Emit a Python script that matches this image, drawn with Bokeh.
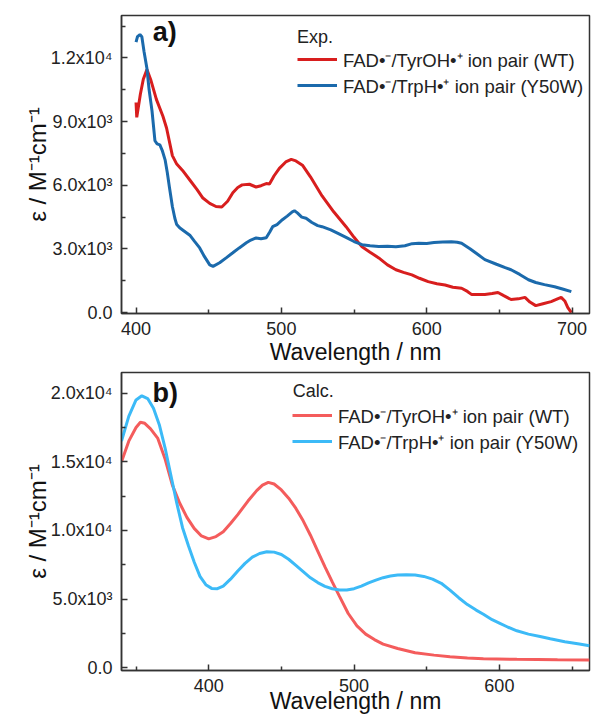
from bokeh.plotting import figure
from bokeh.layouts import column
from bokeh.models import FixedTicker, Legend, LegendItem, Label, Range1d
from bokeh.embed import file_html
from bokeh.resources import INLINE

# ---------------- data: (a) experimental ----------------
exp_wl_wt = [400, 400.5, 403, 405, 407.5, 410, 414, 418.5, 421, 425, 428, 432, 437, 442, 446,
             450.7, 455, 459, 463, 466.6, 470, 473, 478, 482.6, 486, 489.6, 491.8, 495, 498.6,
             503, 506.8, 510, 514.5, 520, 528, 536, 544.5, 550, 555.5, 561, 567, 573, 578.8,
             584, 589.8, 595, 601, 607, 612.6, 618, 624, 628, 631, 636, 640, 645, 649, 653,
             658, 663, 667.6, 671, 675, 680, 685.6, 690, 692.5, 695, 697, 699.5]
exp_eps_wt = [9900, 9200, 10300, 11000, 11450, 11000, 10050, 9250, 8700, 7400, 7000, 6700, 6250,
              5800, 5400, 5150, 5000, 4980, 5250, 5650, 5900, 6020, 6050, 5920, 5980, 6080, 6060,
              6450, 6800, 7100, 7220, 7150, 6950, 6400, 5500, 4750, 4050, 3550, 3100, 2850, 2580,
              2250, 2020, 1900, 1780, 1620, 1460, 1360, 1300, 1200, 1150, 1000, 850, 850, 860,
              900, 950, 800, 620, 650, 720, 500, 330, 420, 520, 650, 720, 550, 250, 0]

exp_wl_y50w = [400, 401, 402.7, 404, 405.5, 407.5, 409, 411, 413, 414.5, 416.4, 418, 420, 421.5,
               423, 425, 426.7, 428, 430, 433, 437, 440, 443.8, 447, 450.7, 453, 457.5, 462,
               466.6, 471, 475.9, 479, 482.6, 486, 489.6, 492, 494, 497, 500.7, 504, 507.5, 509,
               511, 514, 517, 521, 525, 528, 534, 540, 544.5, 550, 555.5, 561, 567, 573, 578.8,
               585, 590, 594.5, 600, 605, 611, 617, 621, 624, 630, 635, 640, 648, 654, 658, 664,
               670, 675, 681, 688, 694, 699.5]
exp_eps_y50w = [12750, 13000, 13100, 13000, 12300, 11500, 10500, 9500, 8100, 7950, 7900, 7650,
                7200, 6600, 5900, 5000, 4450, 4150, 4000, 3850, 3650, 3380, 3050, 2650, 2250,
                2180, 2350, 2580, 2820, 3050, 3290, 3420, 3520, 3480, 3530, 3800, 4050, 4150,
                4380, 4550, 4750, 4800, 4700, 4500, 4450, 4250, 4100, 4050, 3900, 3700, 3550,
                3350, 3200, 3150, 3120, 3130, 3100, 3150, 3250, 3270, 3260, 3300, 3330, 3340,
                3320, 3270, 3000, 2750, 2500, 2280, 2120, 2020, 1800, 1550, 1420, 1320, 1220,
                1100, 990]

# ---------------- data: (b) calculated ----------------
calc_wl_wt = [340, 345, 350, 353, 356, 360, 365, 370, 375, 380, 385, 390, 395, 400, 405, 410,
              415, 420, 427, 433, 437, 441, 445, 450, 455, 460, 465, 470, 475, 480, 485, 490,
              496, 502, 508, 514, 520, 530, 542, 555, 566, 578, 589, 612, 640, 662]
calc_eps_wt = [15000, 16500, 17500, 17880, 17800, 17400, 16700, 15200, 13300, 12000, 10950,
               10150, 9600, 9380, 9550, 9900, 10500, 11150, 12140, 12900, 13300, 13500, 13380,
               12950, 12350, 11600, 10700, 9650, 8500, 7350, 6250, 5200, 3950, 3050, 2450, 2050,
               1720, 1400, 1090, 920, 800, 710, 650, 620, 590, 570]

calc_wl_y50w = [340, 345, 350, 354, 358, 362, 366, 370, 374, 378, 382, 386, 390, 394, 398, 402,
                406, 410, 415, 420, 425, 430, 435, 440, 445, 450, 455, 460, 465, 470, 475, 480,
                485, 490, 495, 500, 505, 510, 515, 520, 525, 530, 536, 542, 548, 554, 560, 566,
                572, 578, 584, 589, 595, 600, 606, 612, 620, 628, 635, 645, 655, 662]
calc_eps_y50w = [16500, 18300, 19500, 19800, 19600, 18900, 17700, 16000, 14000, 12000, 10200,
                 8900, 7700, 6650, 6050, 5780, 5760, 5950, 6450, 7050, 7600, 8050, 8320, 8450,
                 8420, 8250, 7900, 7450, 7000, 6550, 6200, 5930, 5750, 5660, 5660, 5760, 5950,
                 6180, 6380, 6560, 6680, 6750, 6780, 6760, 6650, 6450, 6150, 5650, 5100, 4600,
                 4200, 3900, 3500, 3250, 2950, 2690, 2450, 2270, 2110, 1900, 1730, 1600]

# ---------------- ticks & texts ----------------
xa_ticks = [400, 500, 600, 700]
xa_minor = [450, 550, 650]
ya_ticks = [0, 3000, 6000, 9000, 12000]
ya_minor = [1500, 4500, 7500, 10500, 13500]
ya_labels = ["0.0", "3.0x10\u00b3", "6.0x10\u00b3", "9.0x10\u00b3", "1.2x10\u2074"]

xb_ticks = [400, 500, 600]
xb_minor = [350, 450, 550, 650]
yb_ticks = [0, 5000, 10000, 15000, 20000]
yb_minor = [2500, 7500, 12500, 17500]
yb_labels = ["0.0", "5.0x10\u00b3", "1.0x10\u2074", "1.5x10\u2074", "2.0x10\u2074"]

label_wt = "FAD\u2022\u207b/TyrOH\u2022\u207a ion pair (WT)"
label_y50w = "FAD\u2022\u207b/TrpH\u2022\u207a ion pair (Y50W)"
x_title = "Wavelength / nm"
y_title = "\u03b5 / M\u207b\u00b9cm\u207b\u00b9"

FONT = "Liberation Sans"
AX = "#333333"


def style(p, xt, xm, yt, ym, ylabels):
    p.xaxis.ticker = FixedTicker(ticks=xt, minor_ticks=xm)
    p.yaxis.ticker = FixedTicker(ticks=yt, minor_ticks=ym)
    p.yaxis.major_label_overrides = {t: l for t, l in zip(yt, ylabels)}
    p.xgrid.visible = False
    p.ygrid.visible = False
    for ax in (p.xaxis[0], p.yaxis[0]):
        ax.axis_line_color = AX
        ax.axis_line_width = 1.5
        ax.major_tick_in = 6
        ax.major_tick_out = 0
        ax.minor_tick_in = 4
        ax.minor_tick_out = 0
        ax.major_tick_line_color = AX
        ax.major_tick_line_width = 1.5
        ax.minor_tick_line_color = AX
        ax.minor_tick_line_width = 1.5
        ax.major_label_text_font = FONT
        ax.major_label_text_font_size = "18px"
        ax.major_label_text_color = "#222222"
        ax.axis_label_text_font = FONT
        ax.axis_label_text_font_size = "23px"
        ax.axis_label_text_font_style = "normal"
        ax.axis_label_text_color = "#111111"
    p.xaxis.major_label_standoff = 8
    p.yaxis.major_label_standoff = 9
    p.yaxis.axis_label = y_title
    p.yaxis.axis_label_text_font_size = "24px"
    p.yaxis.axis_label_standoff = -3
    p.outline_line_color = AX
    p.outline_line_width = 1.5
    p.outline_line_alpha = 1.0


def add_legend(p, r1, r2, loc):
    leg = Legend(items=[LegendItem(label=label_wt, renderers=[r1]),
                        LegendItem(label=label_y50w, renderers=[r2])],
                 location=loc)
    leg.label_text_font = FONT
    leg.label_text_font_size = "18.5px"
    leg.label_text_color = "#222222"
    leg.border_line_color = None
    leg.background_fill_alpha = 0
    leg.margin = 0
    leg.padding = 5
    leg.spacing = 0
    leg.label_height = 26
    leg.glyph_height = 26
    leg.glyph_width = 40
    leg.label_standoff = 6
    p.add_layout(leg)


# ---------------- panel a ----------------
pa = figure(width=594, height=369, output_backend="svg", toolbar_location=None,
            x_range=Range1d(390, 712), y_range=Range1d(-40, 14000),
            min_border_left=121, min_border_right=4, min_border_top=15, min_border_bottom=56)
ra1 = pa.line(exp_wl_wt, exp_eps_wt, line_color="#d81e1e", line_width=3)
ra2 = pa.line(exp_wl_y50w, exp_eps_y50w, line_color="#1b6aac", line_width=3)
style(pa, xa_ticks, xa_minor, ya_ticks, ya_minor, ya_labels)
pa.xaxis.axis_label = x_title
pa.xaxis.axis_label_standoff = 1
add_legend(pa, ra1, ra2, (176, 215))
pa.add_layout(Label(x=510.8, y=12990, text="Exp.", text_font=FONT, text_font_size="18px",
                    text_color="#222222", text_baseline="middle"))
pa.add_layout(Label(x=411.5, y=13920, text="a)", text_font=FONT, text_font_size="27px",
                    text_font_style="bold", text_color="#111111", text_baseline="top"))

# ---------------- panel b ----------------
pb = figure(width=594, height=349, output_backend="svg", toolbar_location=None,
            x_range=Range1d(340, 662), y_range=Range1d(-200, 21500),
            min_border_left=121, min_border_right=5, min_border_top=3, min_border_bottom=48)
rb1 = pb.line(calc_wl_wt, calc_eps_wt, line_color="#f45c5c", line_width=3)
rb2 = pb.line(calc_wl_y50w, calc_eps_y50w, line_color="#3cbaf7", line_width=3)
style(pb, xb_ticks, xb_minor, yb_ticks, yb_minor, yb_labels)
pb.xaxis.axis_label = x_title
pb.xaxis.axis_label_standoff = -7
add_legend(pb, rb1, rb2, (171, 216))
pb.add_layout(Label(x=457.9, y=20120, text="Calc.", text_font=FONT, text_font_size="18px",
                    text_color="#222222", text_baseline="middle"))
pb.add_layout(Label(x=361.4, y=21100, text="b)", text_font=FONT, text_font_size="27px",
                    text_font_style="bold", text_color="#111111", text_baseline="top"))

layout = column(pa, pb, spacing=0)
open("out.html", "w").write(file_html(layout, INLINE))
